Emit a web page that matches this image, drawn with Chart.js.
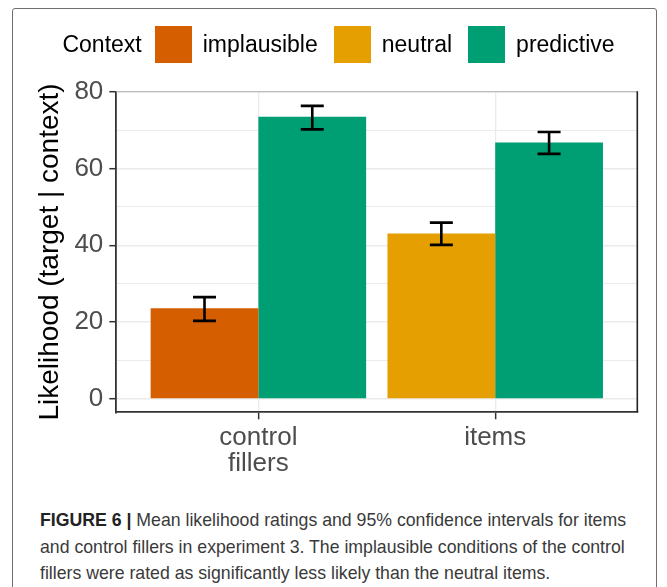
<!DOCTYPE html>
<html>
<head>
<meta charset="utf-8">
<script src="https://cdn.jsdelivr.net/npm/chart.js@4.4.1/dist/chart.umd.min.js"></script>
<style>
  html, body { margin: 0; padding: 0; background: #fff; }
  body { width: 667px; height: 587px; position: relative; overflow: hidden;
         font-family: "Liberation Sans", Arial, sans-serif; }
  #frame { position: absolute; left: 12px; top: 8px; width: 645px; height: 640px;
           border: 1px solid #6f6f6f; border-radius: 3px; box-sizing: border-box; }
  #chartBox { position: absolute; left: 0; top: 0; width: 667px; height: 490px; }
  #legend { position: absolute; left: 5px; top: 26px; width: 667px; height: 37px;
            display: flex; justify-content: center; align-items: center;
            font-size: 23px; color: #000; }
  #legend .title { margin-right: 13px; }
  #legend .swatch { width: 37px; height: 37px; margin-right: 11px; }
  #legend .label { margin-right: 16px; }
  #legend .label:last-child { margin-right: 0; }
  #caption { position: absolute; left: 40px; top: 507px; width: 600px;
             font-size: 17.7px; line-height: 26.5px; color: #3a3a3a; }
  #caption b { color: #222; }
</style>
</head>
<body>
<div id="frame"></div>
<div id="chartBox"><canvas id="chart"></canvas></div>
<div id="legend"></div>
<div id="caption"><b>FIGURE 6 |</b> Mean likelihood ratings and 95% confidence intervals for items and control fillers in experiment 3. The implausible conditions of the control fillers were rated as significantly less likely than the neutral items.</div>
<script>
// Conditions and their fill colours
const contexts = ['implausible', 'neutral', 'predictive'];
const contextColors = ['#D55E00', '#E69F00', '#009E73'];

// x categories (label lines as drawn under the axis)
const categories = ['control fillers', 'items'];
const categoryLines = [['control', 'fillers'], ['items']];

// Left-hand bar of each group
const leftContext = ['implausible', 'neutral'];
const leftMeans = [23.6, 43.1];
const leftLower = [20.3, 40.1];
const leftUpper = [26.5, 45.9];

// Right-hand bar of each group
const rightContext = ['predictive', 'predictive'];
const rightMeans = [73.5, 66.8];
const rightLower = [70.2, 63.8];
const rightUpper = [76.3, 69.5];

// y gridline values; labelled every 20
const yTicks = [0, 10, 20, 30, 40, 50, 60, 70, 80];
const yLabelStep = 20;

const colorOf = name => contextColors[contexts.indexOf(name)];

// Legend row
const legendEl = document.getElementById('legend');
legendEl.innerHTML = '<span class="title">Context</span>' + contexts.map((c, i) =>
  '<span class="swatch" style="background:' + contextColors[i] + '"></span>' +
  '<span class="label">' + c + '</span>').join('');

function buildData(means, lower, upper) {
  return categories.map((c, i) => ({ x: i + 1, y: means[i], lo: lower[i], hi: upper[i] }));
}

// Black 95% CI whiskers on every bar
const errorBars = {
  id: 'errorBars',
  afterDatasetsDraw(chart) {
    const { ctx } = chart;
    const yScale = chart.scales.y;
    const cap = 23;
    ctx.save();
    ctx.strokeStyle = '#000';
    ctx.lineWidth = 2.6;
    chart.data.datasets.forEach((ds, di) => {
      const meta = chart.getDatasetMeta(di);
      meta.data.forEach((bar, i) => {
        const pt = ds.data[i];
        const x = bar.x;
        const yl = yScale.getPixelForValue(pt.lo);
        const yh = yScale.getPixelForValue(pt.hi);
        ctx.beginPath();
        ctx.moveTo(x, yl); ctx.lineTo(x, yh);
        ctx.moveTo(x - cap / 2, yh); ctx.lineTo(x + cap / 2, yh);
        ctx.moveTo(x - cap / 2, yl); ctx.lineTo(x + cap / 2, yl);
        ctx.stroke();
      });
    });
    ctx.restore();
  }
};

// Panel border: light top edge, dark right edge
const panelBorder = {
  id: 'panelBorder',
  afterDraw(chart) {
    const { ctx, chartArea: a } = chart;
    ctx.save();
    ctx.lineWidth = 1.3;
    ctx.strokeStyle = '#bdbdbd';
    ctx.beginPath(); ctx.moveTo(a.left, a.top); ctx.lineTo(a.right, a.top); ctx.stroke();
    ctx.lineWidth = 1.6;
    ctx.strokeStyle = '#222';
    ctx.beginPath(); ctx.moveTo(a.right, a.top - 0.5); ctx.lineTo(a.right, a.bottom); ctx.stroke();
    ctx.restore();
  }
};

new Chart(document.getElementById('chart'), {
  type: 'bar',
  data: {
    datasets: [
      { label: 'left', data: buildData(leftMeans, leftLower, leftUpper),
        backgroundColor: leftContext.map(colorOf), borderWidth: 0 },
      { label: 'right', data: buildData(rightMeans, rightLower, rightUpper),
        backgroundColor: rightContext.map(colorOf), borderWidth: 0 }
    ]
  },
  options: {
    responsive: true,
    maintainAspectRatio: false,
    animation: false,
    devicePixelRatio: 1,
    categoryPercentage: 0.91,
    barPercentage: 1.0,
    layout: { padding: { left: 0, top: 91.7, right: 29.7, bottom: 0 } },
    plugins: { legend: { display: false }, tooltip: { enabled: false } },
    scales: {
      x: {
        type: 'linear',
        min: 0.4,
        max: 2.6,
        offset: false,
        afterBuildTicks: s => { s.ticks = categories.map((c, i) => ({ value: i + 1 })); },
        afterFit: s => { s.height = 77.7; },
        grid: { offset: false, color: '#ebebeb', lineWidth: 1.3, drawTicks: true,
                tickLength: 7, tickColor: '#333', tickWidth: 1.5 },
        border: { display: true, color: '#333', width: 1.8 },
        ticks: {
          autoSkip: false, maxRotation: 0, padding: 6,
          color: '#4d4d4d',
          font: { family: '"Liberation Sans", Arial, sans-serif', size: 26, lineHeight: 0.98 },
          callback: v => categoryLines[v - 1]
        }
      },
      y: {
        min: -3.5,
        max: 80,
        afterBuildTicks: s => { s.ticks = yTicks.map(v => ({ value: v })); },
        afterFit: s => { s.width = 116.3; },
        grid: {
          color: '#ebebeb',
          lineWidth: c => (c.tick && c.tick.value % yLabelStep === 0 ? 1.4 : 1.0),
          drawTicks: true, tickLength: 7,
          tickColor: c => (c.tick && c.tick.value % yLabelStep === 0 ? '#333' : 'rgba(0,0,0,0)'),
          tickWidth: 1.5
        },
        border: { display: true, color: '#333', width: 1.8 },
        ticks: {
          padding: 6,
          color: '#4d4d4d',
          font: { family: '"Liberation Sans", Arial, sans-serif', size: 26 },
          callback: v => (v % yLabelStep === 0 ? String(v) : '')
        },
        title: {
          display: true,
          text: 'Likelihood (target | context)',
          color: '#000',
          padding: { top: 33, bottom: 0 },
          font: { family: '"Liberation Sans", Arial, sans-serif', size: 28 }
        }
      }
    }
  },
  plugins: [errorBars, panelBorder]
});
</script>
</body>
</html>
